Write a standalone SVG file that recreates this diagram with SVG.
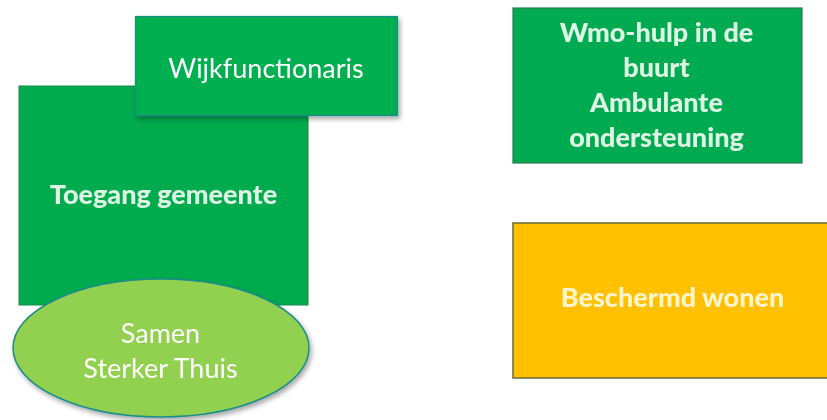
<svg xmlns="http://www.w3.org/2000/svg" width="827" height="420" viewBox="0 0 827 420">
<defs>
<filter id="sh" x="-10%" y="-10%" width="130%" height="140%">
<feGaussianBlur in="SourceAlpha" stdDeviation="2.5"/>
<feOffset dx="2" dy="3" result="b"/>
<feComponentTransfer><feFuncA type="linear" slope="0.35"/></feComponentTransfer>
<feMerge><feMergeNode/><feMergeNode in="SourceGraphic"/></feMerge>
</filter>
<filter id="soft"><feGaussianBlur stdDeviation="0.5"/></filter>
</defs>
<style>
.txt{font-family:Lato,"Liberation Sans",sans-serif;text-anchor:middle}
.b{font-weight:900}
.w{fill:#ffffff}
.mint{fill:#DDF5E4}
</style>
<rect width="827" height="420" fill="#ffffff"/>
<g id="toegang">
<rect x="19" y="86" width="289" height="219" fill="#00AB4E" stroke="#13884A" stroke-width="1"/>
<text class="txt b mint" x="163.5" y="204" font-size="27" filter="url(#soft)">Toegang gemeente</text>
</g>
<g id="wijkfunctionaris" filter="url(#sh)">
<rect x="135.5" y="16.5" width="262" height="99" fill="#00AF50" stroke="#1E8A8A" stroke-width="1.2"/>
<text class="txt w" x="266" y="78" font-size="27">Wijkfunctionaris</text>
</g>
<g id="samen" filter="url(#sh)">
<ellipse cx="161" cy="348" rx="148" ry="69" fill="#92D050" stroke="#1A8C8C" stroke-width="1.5"/>
<text class="txt w" x="160.5" y="343" font-size="27">Samen</text>
<text class="txt w" x="160.5" y="378" font-size="27">Sterker Thuis</text>
</g>
<g id="wmo">
<rect x="513" y="8" width="289" height="155" fill="#00AA50" stroke="#2C7A55" stroke-width="1.2"/>
<g class="txt b mint" font-size="27" filter="url(#soft)">
<text x="656.5" y="42">Wmo-hulp in de</text>
<text x="656.5" y="77">buurt</text>
<text x="656.5" y="112">Ambulante</text>
<text x="656.5" y="147">ondersteuning</text>
</g>
</g>
<g id="beschermd">
<rect x="513" y="223" width="320" height="155" fill="#FFC000" stroke="#6B6A3A" stroke-width="1.5"/>
<text class="txt b" x="672.5" y="307" font-size="27" fill="#FFF4CC" filter="url(#soft)">Beschermd wonen</text>
</g>
<g id="connectors"/>
</svg>
